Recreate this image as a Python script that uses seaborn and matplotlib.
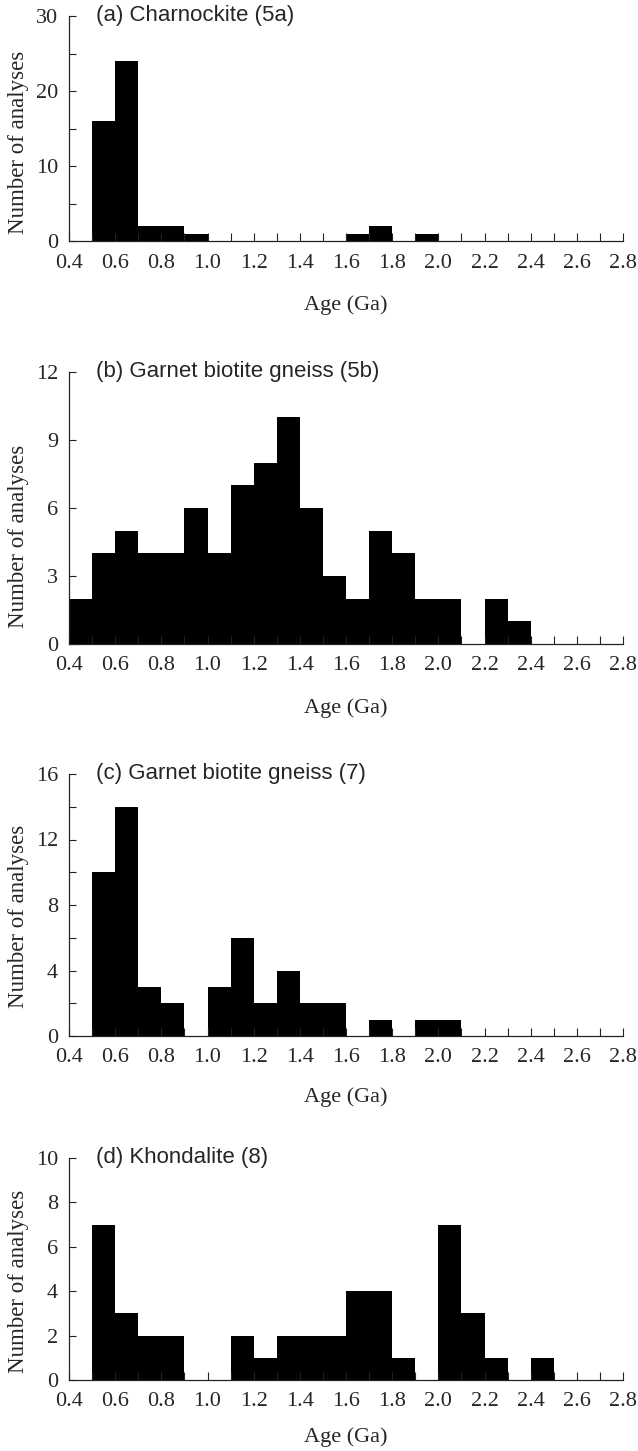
import numpy as np
import pandas as pd
import matplotlib
matplotlib.use("Agg")
import matplotlib.pyplot as plt
from matplotlib.ticker import MultipleLocator, FixedLocator, FormatStrFormatter
import seaborn as sns

# Left edges of the 0.1 Ga age bins (0.4 - 2.8 Ga)
bin_left = [0.4, 0.5, 0.6, 0.7, 0.8, 0.9, 1.0, 1.1, 1.2, 1.3, 1.4, 1.5,
            1.6, 1.7, 1.8, 1.9, 2.0, 2.1, 2.2, 2.3, 2.4, 2.5, 2.6, 2.7]

# Number of zircon analyses per bin for each sample
counts_a = [0, 16, 24, 2, 2, 1, 0, 0, 0, 0, 0, 0,
            1, 2, 0, 1, 0, 0, 0, 0, 0, 0, 0, 0]
counts_b = [2, 4, 5, 4, 4, 6, 4, 7, 8, 10, 6, 3,
            2, 5, 4, 2, 2, 0, 2, 1, 0, 0, 0, 0]
counts_c = [0, 10, 14, 3, 2, 0, 3, 6, 2, 4, 2, 2,
            0, 1, 0, 1, 1, 0, 0, 0, 0, 0, 0, 0]
counts_d = [0, 7, 3, 2, 2, 0, 0, 2, 1, 2, 2, 2,
            4, 4, 1, 0, 7, 3, 1, 0, 1, 0, 0, 0]

panel_titles = ["(a) Charnockite (5a)",
                "(b) Garnet biotite gneiss (5b)",
                "(c) Garnet biotite gneiss (7)",
                "(d) Khondalite (8)"]
y_max = [30, 12, 16, 10]
y_major = [10, 3, 4, 2]
y_minor = [5, None, 2, None]
x_ticks = [0.4, 0.6, 0.8, 1.0, 1.2, 1.4, 1.6, 1.8, 2.0, 2.2, 2.4, 2.6, 2.8]

sns.set_style("ticks")
plt.rcParams["font.family"] = ["Liberation Serif", "DejaVu Serif"]

W, H = 638, 1451
fig = plt.figure(figsize=(W / 100, H / 100), dpi=100)

# pixel geometry of each panel: (top, bottom, ylabel centre y, xlabel centre y)
geom = [(16, 241, 142, 305),
        (372, 644, 536, 708),
        (774, 1036, 916, 1097),
        (1158, 1380, 1281, 1437)]
x0, x1 = 69, 623

edges = [round(v, 2) for v in bin_left + [2.8]]
centers = [round(v + 0.05, 3) for v in bin_left]

for i, counts in enumerate([counts_a, counts_b, counts_c, counts_d]):
    top, bot, ylc, xlc = geom[i]
    ax = fig.add_axes([x0 / W, (H - bot) / H, (x1 - x0) / W, (bot - top) / H])
    df = pd.DataFrame({"age": centers, "n": counts})
    sns.histplot(data=df, x="age", weights="n", bins=edges, ax=ax,
                 color="black", alpha=1, linewidth=0, element="bars",
                 fill=True, stat="count")

    ax.set_xlim(0.4, 2.8)
    ax.set_ylim(0, y_max[i])
    ax.xaxis.set_major_locator(FixedLocator(x_ticks))
    ax.xaxis.set_major_formatter(FormatStrFormatter("%.1f"))
    ax.xaxis.set_minor_locator(MultipleLocator(0.1))
    ax.yaxis.set_major_locator(MultipleLocator(y_major[i]))
    if y_minor[i]:
        ax.yaxis.set_minor_locator(MultipleLocator(y_minor[i]))

    sns.despine(ax=ax)
    for side in ("left", "bottom"):
        ax.spines[side].set_linewidth(0.9)
        ax.spines[side].set_color("#222222")

    ax.tick_params(axis="x", which="both", direction="in", length=6,
                   width=0.8, color="#222222", labelsize=16, pad=9)
    ax.tick_params(axis="y", which="both", direction="in", length=5,
                   width=0.8, color="#222222", labelsize=16, pad=8)
    ax.set_axisbelow(False)

    ax.set_xlabel("Age (Ga)", fontsize=16)
    ax.xaxis.label.set_va("center")
    ax.xaxis.set_label_coords(0.5, -(xlc - bot) / (bot - top))
    ax.set_ylabel("Number of analyses", fontsize=16.5)
    ax.yaxis.label.set_va("center")
    ax.yaxis.set_label_coords((19 - x0) / (x1 - x0), (bot - ylc) / (bot - top))

    ax.text(0.049, 1.0, panel_titles[i], transform=ax.transAxes,
            ha="left", va="center", fontsize=16,
            family=["Liberation Sans", "DejaVu Sans"])

fig.savefig("out.png", dpi=100)
